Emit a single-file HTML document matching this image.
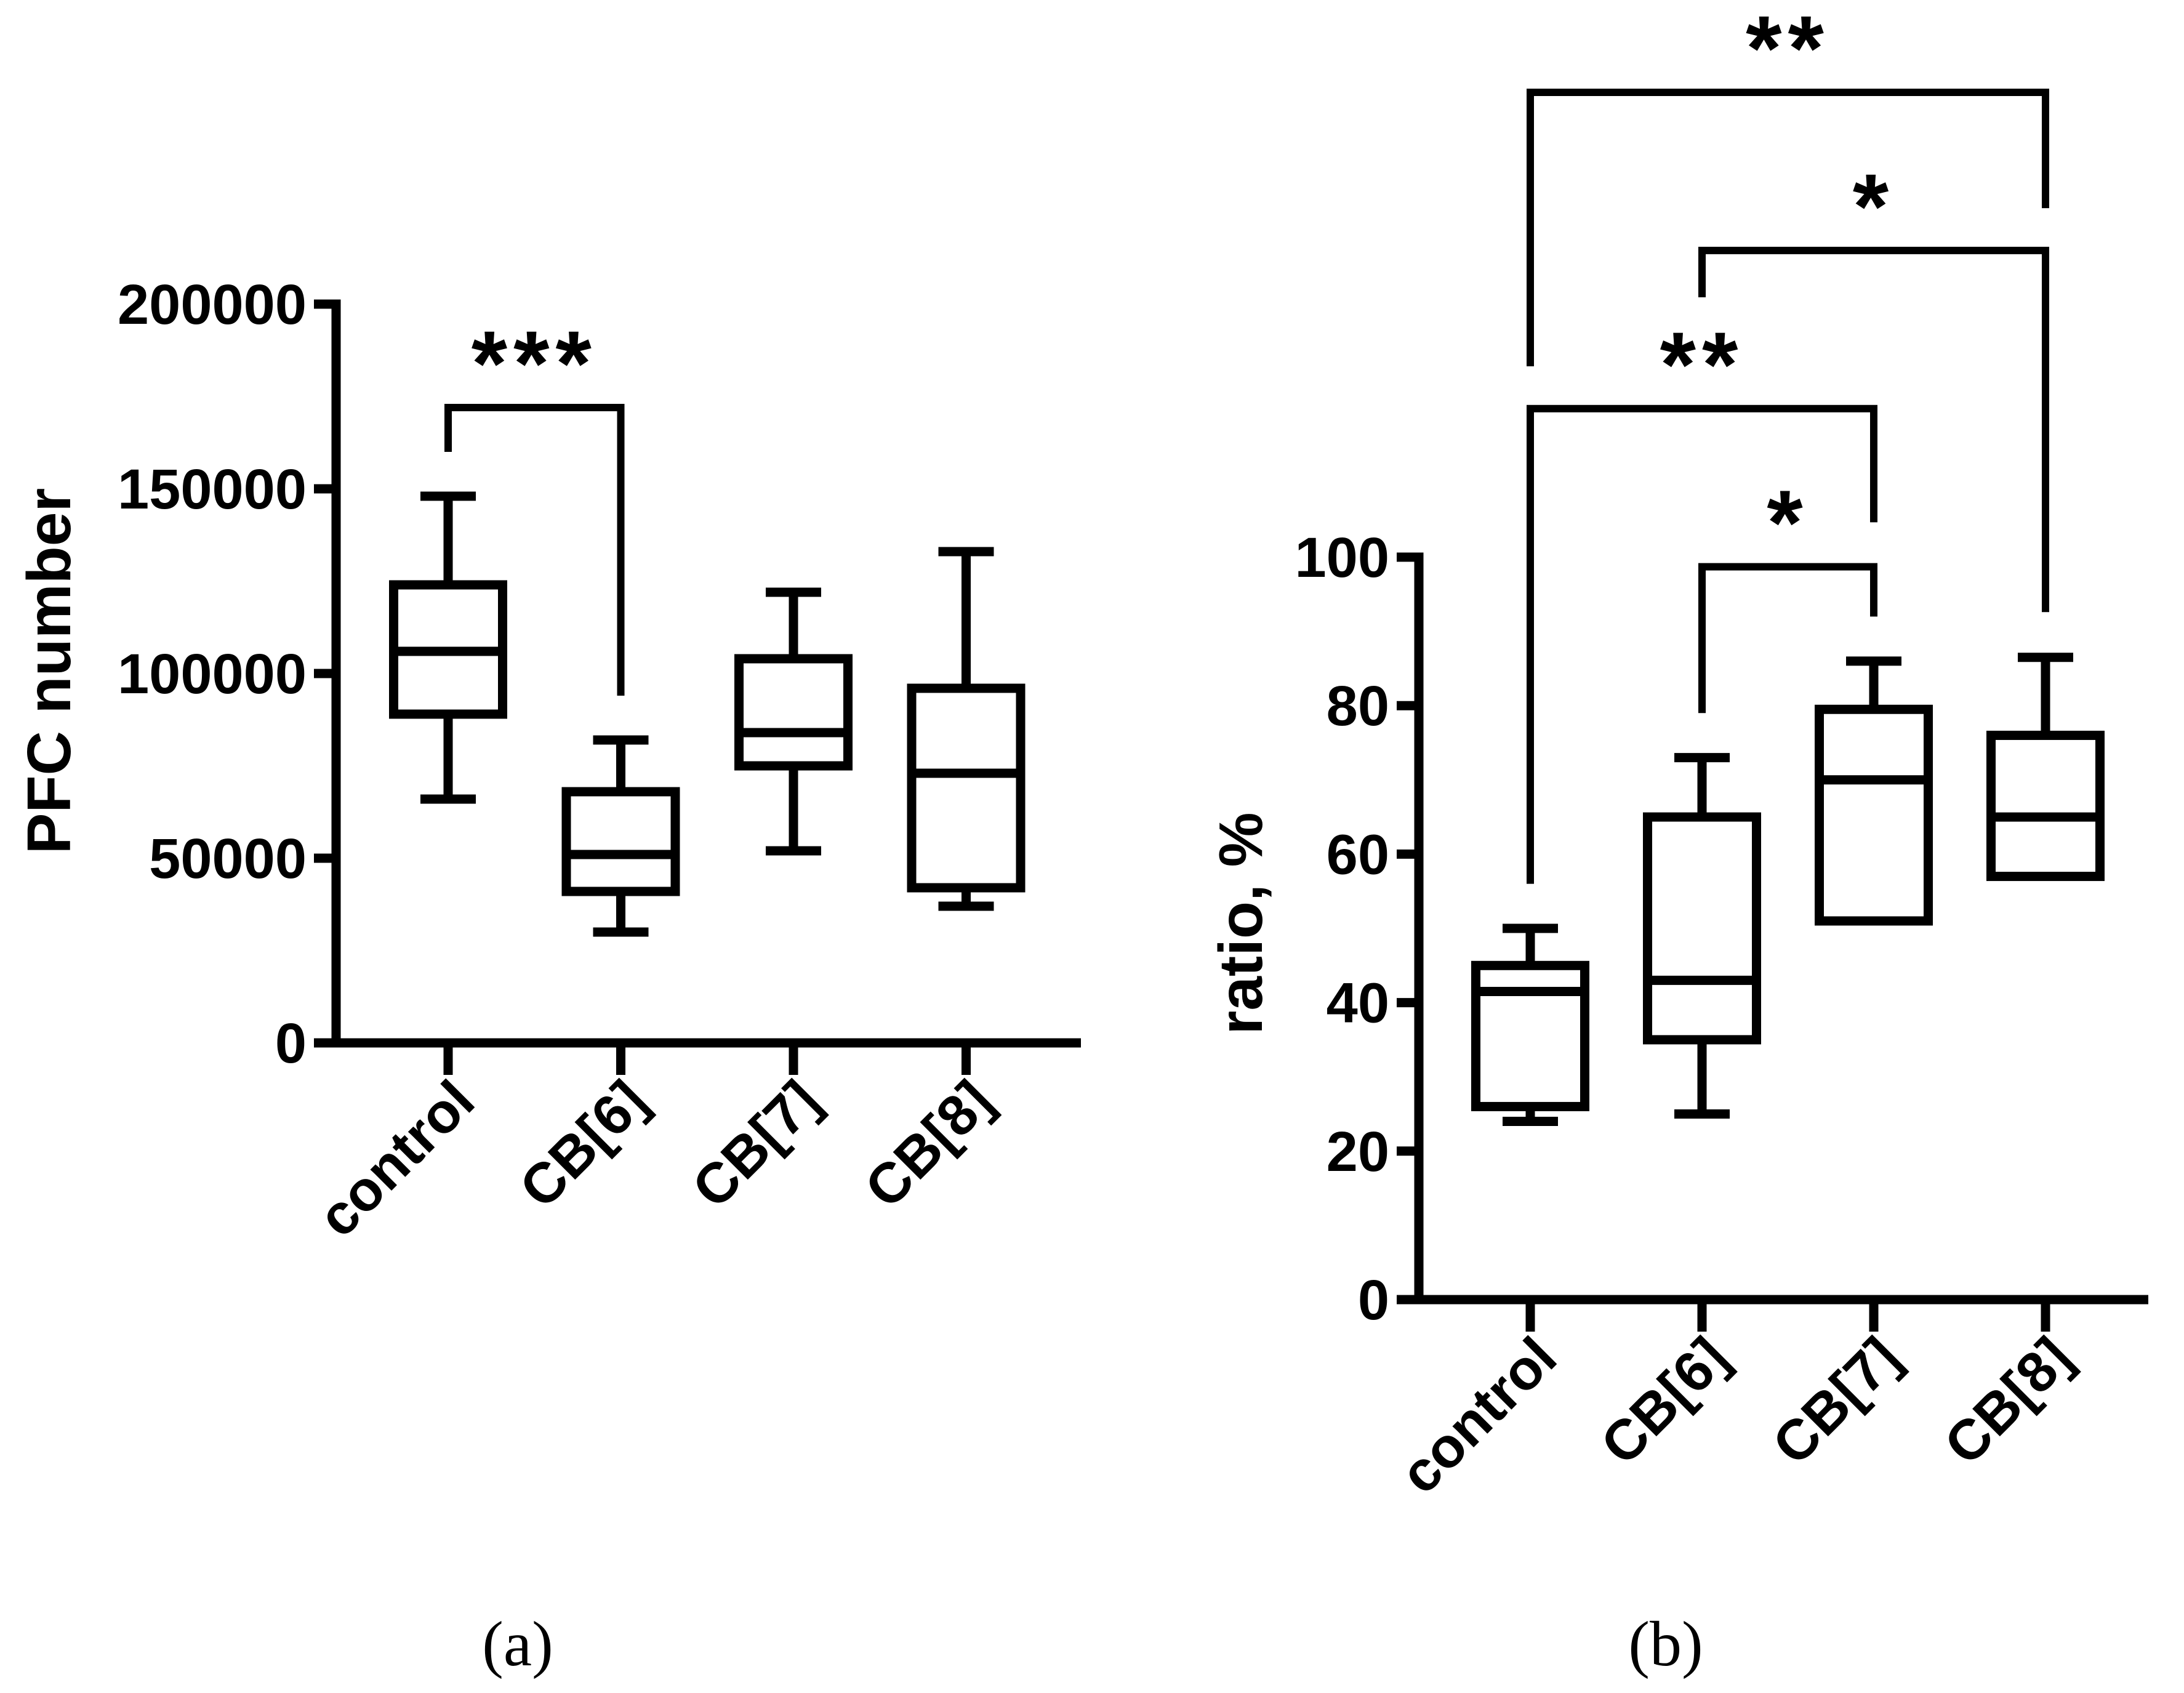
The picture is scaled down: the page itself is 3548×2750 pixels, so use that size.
<!DOCTYPE html>
<html><head><meta charset="utf-8"><style>
html,body{margin:0;padding:0;background:#fff}
svg{display:block}
text{font-family:"Liberation Sans",sans-serif;font-weight:bold;fill:#000}
</style></head><body>
<svg id="s" width="3548" height="2750" viewBox="0 0 3548 2750" xmlns="http://www.w3.org/2000/svg">
<g id="ga"></g>
<g id="gb"></g>
<text x="841" y="2705" text-anchor="middle" style="font-family:'Liberation Serif',serif;font-weight:normal;font-size:104px">(a)</text>
<text x="2706" y="2705" text-anchor="middle" style="font-family:'Liberation Serif',serif;font-weight:normal;font-size:104px">(b)</text>
</svg>
<script>
const categories = ["control","CB[6]","CB[7]","CB[8]"];
// panel a: [whiskerLow, q1, median, q3, whiskerHigh]
const aLow = [66000, 30000, 52000, 37000];
const aQ1 = [89000, 41000, 75000, 42000];
const aMed = [106000, 51000, 84000, 73000];
const aQ3 = [124000, 68000, 104000, 96000];
const aHigh = [148000, 82000, 122000, 133000];
const aTicks = [0, 50000, 100000, 150000, 200000];
// brackets: [fromIdx, toIdx, topValue, leftEndValue, rightEndValue, label]
const aBrackets = [[0, 1, 172000, 160000, 94000, "***"]];

const bLow = [24, 25, 51, 57];
const bQ1 = [26, 35, 51, 57];
const bMed = [41.5, 43, 70, 65];
const bQ3 = [45, 65, 79.5, 76];
const bHigh = [50, 73, 86, 86.5];
const bTicks = [0, 20, 40, 60, 80, 100];
const bBrackets = [
  [1, 2, 98.7, 79, 92, "*"],
  [0, 2, 120, 56, 104.7, "**"],
  [1, 3, 141.3, 135, 92.6, "*"],
  [0, 3, 162.6, 125.7, 147, "**"]
];

const NS = "http://www.w3.org/2000/svg";
function el(parent, tag, attrs, txt){
  const e = document.createElementNS(NS, tag);
  for (const k in attrs) e.setAttribute(k, attrs[k]);
  if (txt !== undefined) e.textContent = txt;
  parent.appendChild(e);
  return e;
}
const SW = 15;

function panel(g, cfg){
  const y = v => cfg.y0 - (v - cfg.vmin) / (cfg.vmax - cfg.vmin) * (cfg.y0 - cfg.y1);
  const x = i => cfg.xs[0] + i * cfg.dx;
  const ya = el(g, "line", {x1: cfg.ax, y1: y(cfg.ticks[cfg.ticks.length-1]) - SW/2, x2: cfg.ax, y2: cfg.y0, stroke: "#000", "stroke-width": SW});
  
  
  const xa = el(g, "line", {x1: cfg.ax - 36, y1: cfg.y0, x2: cfg.axEnd, y2: cfg.y0, stroke: "#000", "stroke-width": SW});
  
  
  cfg.ticks.forEach(t => {
    const tk = el(g, "line", {x1: cfg.ax - 36, y1: y(t), x2: cfg.ax, y2: y(t), stroke: "#000", "stroke-width": SW});
    
    
    const tl = el(g, "text", {x: cfg.ax - 48, y: y(t) + 32, "text-anchor": "end", "font-size": 92}, String(t));
    
    
  });
  const yt = el(g, "text", {x: 0, y: 0, "text-anchor": "middle", "font-size": cfg.titleSize, transform: `translate(${cfg.titleX},${cfg.titleY}) rotate(-90)`}, cfg.title);
  
  
  categories.forEach((c, i) => {
    const cx = x(i);
    const tk = el(g, "line", {x1: cx, y1: cfg.y0, x2: cx, y2: cfg.y0 + 52, stroke: "#000", "stroke-width": SW});
    
    
    const lb = el(g, "text", {x: 0, y: 0, "text-anchor": "end", "font-size": 92, transform: `translate(${cx + 48},${cfg.y0 + 100}) rotate(-45)`}, c);
    
    
    const bw = 177, cw = 90;
    const box = el(g, "g", {});
    
    
    const d = cfg;
    el(box, "line", {x1: cx, y1: y(d.low[i]), x2: cx, y2: y(d.q1[i]), stroke: "#000", "stroke-width": SW});
    el(box, "line", {x1: cx, y1: y(d.q3[i]), x2: cx, y2: y(d.high[i]), stroke: "#000", "stroke-width": SW});
    if (d.low[i] < d.q1[i]) el(box, "line", {x1: cx - cw/2, y1: y(d.low[i]), x2: cx + cw/2, y2: y(d.low[i]), stroke: "#000", "stroke-width": SW});
    el(box, "line", {x1: cx - cw/2, y1: y(d.high[i]), x2: cx + cw/2, y2: y(d.high[i]), stroke: "#000", "stroke-width": SW});
    el(box, "rect", {x: cx - bw/2, y: y(d.q3[i]), width: bw, height: y(d.q1[i]) - y(d.q3[i]), fill: "#fff", stroke: "#000", "stroke-width": SW});
    el(box, "line", {x1: cx - bw/2, y1: y(d.med[i]), x2: cx + bw/2, y2: y(d.med[i]), stroke: "#000", "stroke-width": SW});
  });
  cfg.brackets.forEach(b => {
    const x1 = x(b[0]), x2 = x(b[1]), yt2 = y(b[2]);
    const p = el(g, "polyline", {points: `${x1},${y(b[3])} ${x1},${yt2} ${x2},${yt2} ${x2},${y(b[4])}`, fill: "none", stroke: "#000", "stroke-width": 12});
    
    
    const t = el(g, "text", {x: (x1 + x2) / 2, y: yt2 - 20, "text-anchor": "middle", "font-size": 150, "letter-spacing": 10}, b[5]);
    
    
  });
}

panel(document.getElementById("ga"), {
  vmin: 0, vmax: 200000, y0: 1694, y1: 494, ax: 546, axEnd: 1756,
  xs: [728], dx: 280.5, ticks: aTicks,
  low: aLow, q1: aQ1, med: aMed, q3: aQ3, high: aHigh, brackets: aBrackets,
  title: "PFC number", titleSize: 100, titleX: 114, titleY: 1090
});
panel(document.getElementById("gb"), {
  vmin: 0, vmax: 100, y0: 2111, y1: 905, ax: 2305, axEnd: 3490,
  xs: [2486], dx: 279, ticks: bTicks,
  low: bLow, q1: bQ1, med: bMed, q3: bQ3, high: bHigh, brackets: bBrackets,
  title: "ratio, %", titleSize: 100, titleX: 2050, titleY: 1500
});
</script>
</body></html>
